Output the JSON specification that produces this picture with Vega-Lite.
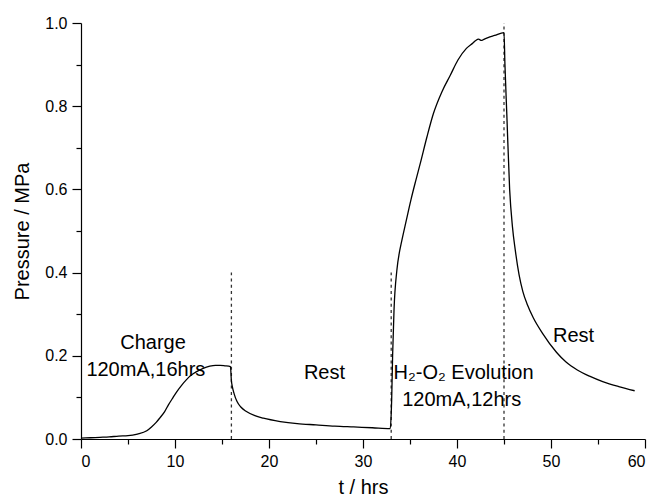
{
  "$schema": "https://vega.github.io/schema/vega-lite/v6.json",
  "autosize": "none",
  "width": 564,
  "height": 416,
  "padding": {"left": 81, "top": 23, "right": 10, "bottom": 63},
  "background": "white",
  "config": {
    "view": {"stroke": null},
    "font": "Liberation Sans",
    "axis": {
      "domainColor": "black",
      "tickColor": "black",
      "labelColor": "black",
      "titleColor": "black",
      "labelFont": "Liberation Sans",
      "titleFont": "Liberation Sans",
      "labelFontSize": 16,
      "titleFontSize": 20,
      "titleFontWeight": "normal",
      "grid": false,
      "domainWidth": 1.2,
      "tickWidth": 1.2
    }
  },
  "datasets": {
    "curve": [
      {"t": 0, "p": 0.002}, {"t": 1, "p": 0.003}, {"t": 2, "p": 0.004}, {"t": 3, "p": 0.005},
      {"t": 4, "p": 0.007}, {"t": 5, "p": 0.008}, {"t": 6, "p": 0.012}, {"t": 7, "p": 0.02},
      {"t": 7.5, "p": 0.029}, {"t": 8, "p": 0.04}, {"t": 8.4, "p": 0.051}, {"t": 8.9, "p": 0.066},
      {"t": 9.3, "p": 0.082}, {"t": 9.8, "p": 0.1}, {"t": 10.2, "p": 0.114}, {"t": 10.7, "p": 0.129},
      {"t": 11.2, "p": 0.142}, {"t": 11.7, "p": 0.153}, {"t": 12.3, "p": 0.162}, {"t": 13, "p": 0.17},
      {"t": 13.7, "p": 0.175}, {"t": 14.3, "p": 0.177}, {"t": 14.8, "p": 0.177}, {"t": 15.3, "p": 0.176},
      {"t": 15.9, "p": 0.174}, {"t": 16.0, "p": 0.14}, {"t": 16.1, "p": 0.126}, {"t": 16.3, "p": 0.108},
      {"t": 16.6, "p": 0.09}, {"t": 17, "p": 0.077}, {"t": 17.6, "p": 0.066}, {"t": 18.5, "p": 0.056},
      {"t": 19.4, "p": 0.05}, {"t": 21.2, "p": 0.042}, {"t": 23, "p": 0.037}, {"t": 25, "p": 0.034},
      {"t": 27, "p": 0.031}, {"t": 29, "p": 0.029}, {"t": 31, "p": 0.027}, {"t": 32.9, "p": 0.025},
      {"t": 33.0, "p": 0.06}, {"t": 33.05, "p": 0.094}, {"t": 33.15, "p": 0.2}, {"t": 33.3, "p": 0.31},
      {"t": 33.6, "p": 0.405}, {"t": 33.9, "p": 0.452}, {"t": 34.1, "p": 0.474}, {"t": 34.6, "p": 0.525},
      {"t": 35.1, "p": 0.575}, {"t": 35.6, "p": 0.62}, {"t": 36.1, "p": 0.663}, {"t": 36.8, "p": 0.726},
      {"t": 37.5, "p": 0.783}, {"t": 38.4, "p": 0.835}, {"t": 39.3, "p": 0.875}, {"t": 40.1, "p": 0.911},
      {"t": 41.0, "p": 0.939}, {"t": 41.7, "p": 0.952}, {"t": 42.0, "p": 0.958}, {"t": 42.3, "p": 0.961},
      {"t": 42.6, "p": 0.958}, {"t": 42.8, "p": 0.96}, {"t": 43.3, "p": 0.965}, {"t": 44, "p": 0.97},
      {"t": 45.0, "p": 0.977}, {"t": 45.1, "p": 0.9}, {"t": 45.3, "p": 0.78}, {"t": 45.6, "p": 0.6},
      {"t": 45.9, "p": 0.51}, {"t": 46.2, "p": 0.454}, {"t": 46.6, "p": 0.395}, {"t": 47.0, "p": 0.355},
      {"t": 47.5, "p": 0.322}, {"t": 48.1, "p": 0.292}, {"t": 49.1, "p": 0.254}, {"t": 50.6, "p": 0.208},
      {"t": 51.6, "p": 0.185}, {"t": 52.8, "p": 0.166}, {"t": 54.1, "p": 0.151}, {"t": 55.5, "p": 0.138},
      {"t": 57.2, "p": 0.126}, {"t": 58.9, "p": 0.116}
    ],
    "rules": [
      {"t": 16, "y0": 0, "y1": 0.4},
      {"t": 33, "y0": 0, "y1": 0.4},
      {"t": 45, "y0": 0, "y1": 1.0}
    ],
    "labels": [
      {"t": 7.66, "p": 0.231, "label": "Charge"},
      {"t": 6.9, "p": 0.166, "label": "120mA,16hrs"},
      {"t": 25.9, "p": 0.159, "label": "Rest"},
      {"t": 40.5, "p": 0.094, "label": "120mA,12hrs"},
      {"t": 52.4, "p": 0.248, "label": "Rest"}
    ],
    "labelsLeft": [
      {"t": 33.25, "p": 0.159, "label": "H₂-O₂ Evolution"}
    ]
  },
  "layer": [
    {
      "data": {"name": "rules"},
      "mark": {"type": "rule", "color": "#333333", "strokeWidth": 1.3, "strokeDash": [3, 3.3]},
      "encoding": {
        "x": {"field": "t", "type": "quantitative"},
        "y": {"field": "y0", "type": "quantitative"},
        "y2": {"field": "y1"}
      }
    },
    {
      "data": {"name": "curve"},
      "mark": {"type": "line", "color": "black", "strokeWidth": 1.3, "interpolate": "monotone"},
      "encoding": {
        "x": {
          "field": "t", "type": "quantitative",
          "scale": {"domain": [0, 60], "nice": false},
          "axis": {
            "title": "t / hrs",
            "values": [0, 5, 10, 15, 20, 25, 30, 35, 40, 45, 50, 55, 60],
            "labelExpr": "datum.value % 10 == 0 ? datum.label : ''",
            "tickSize": {"condition": {"test": "datum.value % 10 == 0", "value": 9}, "value": 5},
            "labelPadding": 5,
            "titlePadding": 8
          }
        },
        "y": {
          "field": "p", "type": "quantitative",
          "scale": {"domain": [0, 1], "nice": false},
          "axis": {
            "title": "Pressure / MPa",
            "values": [0, 0.1, 0.2, 0.3, 0.4, 0.5, 0.6, 0.7, 0.8, 0.9, 1.0],
            "labelExpr": "round(datum.value * 10) % 2 == 0 ? format(datum.value, '.1f') : ''",
            "tickSize": {"condition": {"test": "round(datum.value * 10) % 2 == 0", "value": 9}, "value": 5},
            "labelPadding": 5,
            "titlePadding": 12
          }
        }
      }
    },
    {
      "data": {"name": "labels"},
      "mark": {"type": "text", "fontSize": 20, "color": "black", "align": "center", "baseline": "middle", "font": "Liberation Sans"},
      "encoding": {
        "x": {"field": "t", "type": "quantitative"},
        "y": {"field": "p", "type": "quantitative"},
        "text": {"field": "label"}
      }
    },
    {
      "data": {"name": "labelsLeft"},
      "mark": {"type": "text", "fontSize": 20, "color": "black", "align": "left", "baseline": "middle", "font": "Liberation Sans"},
      "encoding": {
        "x": {"field": "t", "type": "quantitative"},
        "y": {"field": "p", "type": "quantitative"},
        "text": {"field": "label"}
      }
    }
  ]
}
